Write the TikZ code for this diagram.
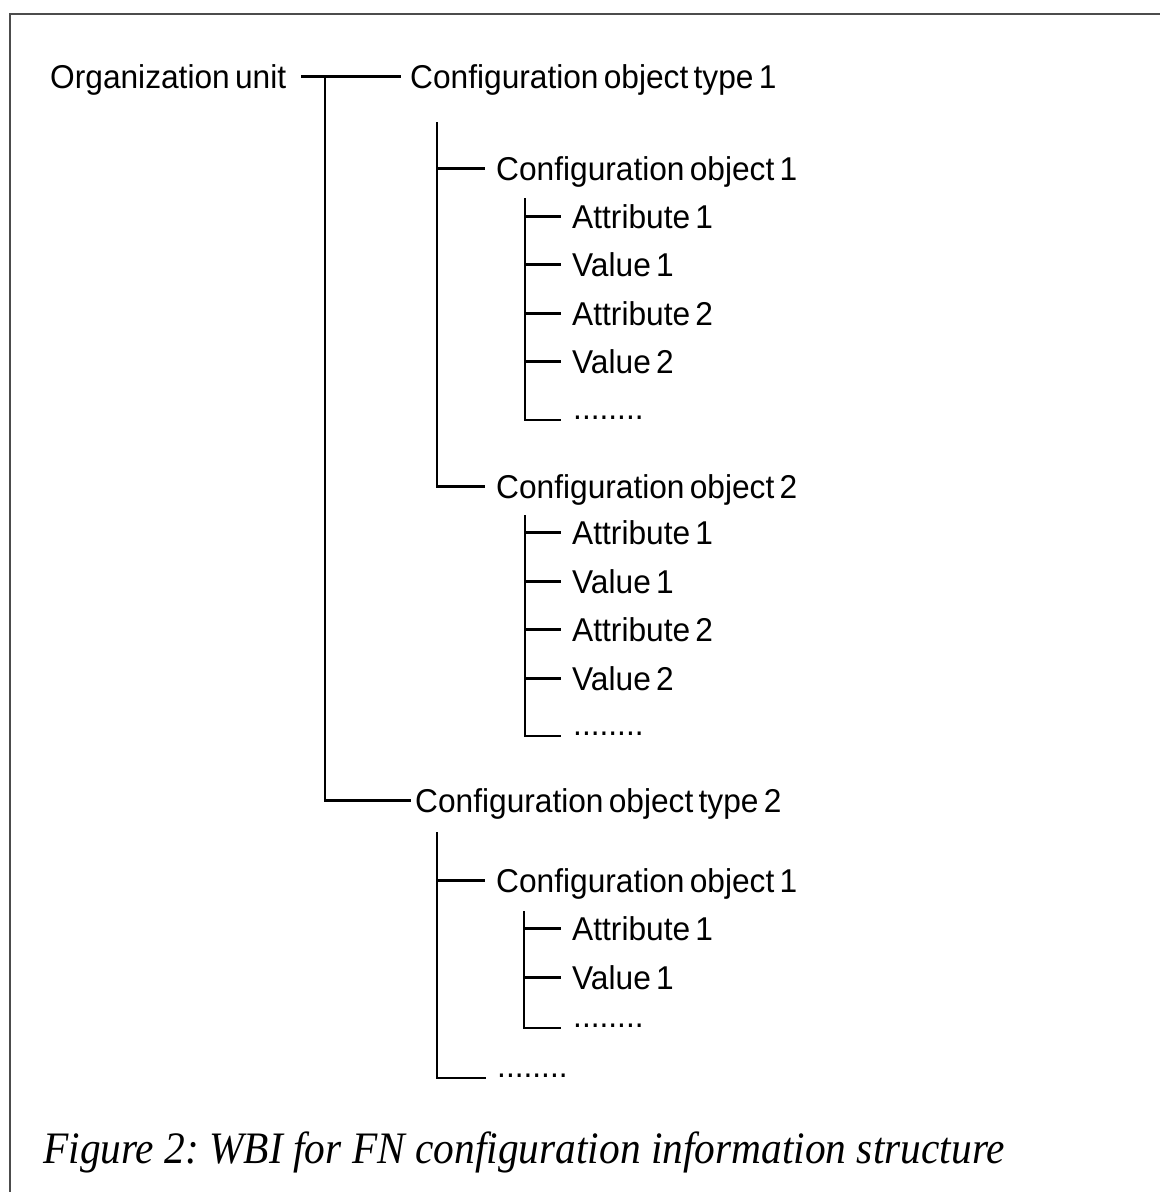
\documentclass[tikz,border=0pt]{standalone}
\usepackage{fontspec}
\setmainfont{Liberation Sans}[WordSpace=0.6, FakeStretch=0.96]
\newfontfamily\captionserif{Liberation Serif}[FakeStretch=0.92]
\frenchspacing
\begin{document}
\begin{tikzpicture}[x=1pt, y=-1pt,
  item/.style={anchor=base west, inner sep=0pt, text height=23pt, text depth=0pt,
               font=\fontsize{33}{38}\selectfont},
  link/.style={line width=2.2pt, black},
  framing/.style={line width=2pt, black!70},
  caption/.style={anchor=base west, inner sep=0pt,
                  font=\captionserif\itshape\fontsize{45}{52}\selectfont}]
\useasboundingbox (0,0) rectangle (1160,1192);

% open frame: top and left edges only
\draw[framing] (10,1192) |- (1160,14);

% root and the two object types
\node[item] (ou)  at (50,88)   {Organization unit};
\node[item] (ct1) at (410,88)  {Configuration object type 1};
\node[item] (ct2) at (415,812) {Configuration object type 2};

% objects under type 1
\node[item] (co11) at (496,180) {Configuration object 1};
\node[item] (a111) at (572,228) {Attribute 1};
\node[item] (v111) at (572,276) {Value 1};
\node[item] (a112) at (572,325) {Attribute 2};
\node[item] (v112) at (572,373) {Value 2};
\node[item] (d11)  at (573,419) {........};

\node[item] (co12) at (496,498) {Configuration object 2};
\node[item] (a121) at (572,544) {Attribute 1};
\node[item] (v121) at (572,593) {Value 1};
\node[item] (a122) at (572,641) {Attribute 2};
\node[item] (v122) at (572,690) {Value 2};
\node[item] (d12)  at (573,735) {........};

% objects under type 2
\node[item] (co21) at (496,892)  {Configuration object 1};
\node[item] (a211) at (572,940)  {Attribute 1};
\node[item] (v211) at (572,989)  {Value 1};
\node[item] (d21)  at (573,1027) {........};
\node[item] (d2)   at (497,1077) {........};

% tops of the vertical bars
\coordinate (j0)  at (325,0);
\coordinate (b1)  at (437,122);
\coordinate (b11) at (525,198);
\coordinate (b12) at (525,515);
\coordinate (b2)  at (437,832);
\coordinate (b21) at (524,911);

% root level
\draw[link] ([xshift=15pt]ou.east) -- ([xshift=-9pt]ct1.west);
\draw[link] (j0 |- ou.east) |- ([xshift=-4pt]ct2.west);

% type 1
\draw[link] (b1) |- ([xshift=-11pt]co11.west);
\draw[link] (b1) |- ([xshift=-11pt]co12.west);
\foreach \n in {a111,v111,a112,v112}
  \draw[link] (b11) |- ([xshift=-11pt]\n.west);
\draw[link] (b11) |- ([xshift=-12pt,yshift=-1pt]d11.base west);
\foreach \n in {a121,v121,a122,v122}
  \draw[link] (b12) |- ([xshift=-11pt]\n.west);
\draw[link] (b12) |- ([xshift=-12pt,yshift=-1pt]d12.base west);

% type 2
\draw[link] (b2) |- ([xshift=-11pt]co21.west);
\draw[link] (b2) |- ([xshift=-11pt,yshift=-1pt]d2.base west);
\foreach \n in {a211,v211}
  \draw[link] (b21) |- ([xshift=-11pt]\n.west);
\draw[link] (b21) |- ([xshift=-12pt,yshift=-1pt]d21.base west);

% caption
\node[caption] (cap) at (43,1163) {Figure 2: WBI for FN configuration information structure};
\end{tikzpicture}
\end{document}
